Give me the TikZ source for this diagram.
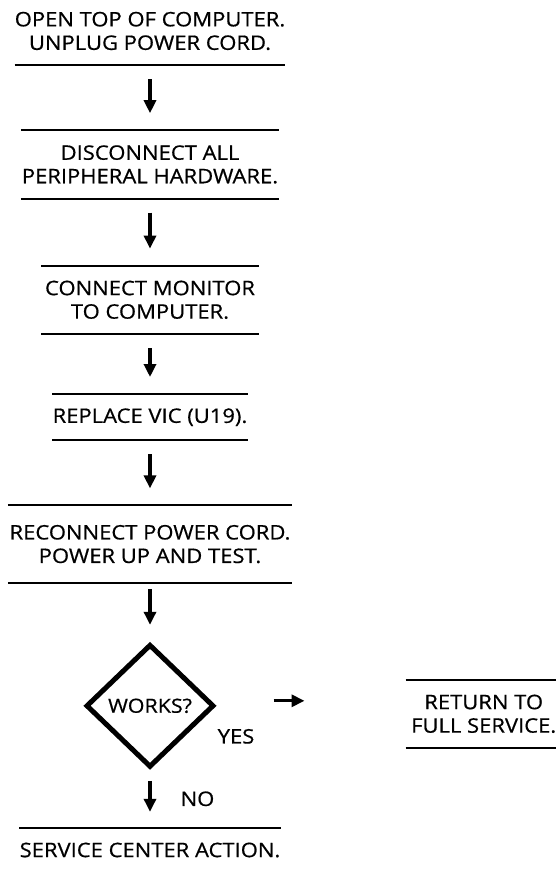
\documentclass[tikz,border=0pt]{standalone}
\usepackage{fontspec}
\setmainfont{Open Sans}[FakeBold=0.6, FakeStretch=1.1]
\usetikzlibrary{shapes.geometric, arrows.meta, positioning}
\tikzstyle{stepbox} = [rectangle, align=center, inner xsep=0pt, inner ysep=0pt, minimum height=68pt]
\tikzstyle{onebox} = [stepbox, minimum height=46pt]
\tikzstyle{decision} = [diamond, aspect=1, minimum width=128pt, minimum height=123pt, inner sep=0pt, draw=black, line width=5pt, font=\fontsize{19.5}{21}\selectfont]
\tikzstyle{rule} = [line width=2pt]
\tikzstyle{arrow} = [line width=3.2pt, -{Triangle[length=13pt,width=12pt]}, shorten <=14pt, shorten >=17pt]
\tikzstyle{tag} = [inner sep=0pt]

\begin{document}
\begin{tikzpicture}[x=1pt, y=1pt, node distance=65pt, font=\fontsize{20}{23.5}\selectfont]
    \useasboundingbox (0,0) rectangle (555,-869);

    % Steps
    \node (A) [stepbox, minimum width=262pt] at (150,-31) {OPEN TOP OF COMPUTER.\\UNPLUG POWER CORD.};
    \node (B) [stepbox, minimum width=258pt, below=of A] {DISCONNECT ALL\\PERIPHERAL HARDWARE.};
    \node (C) [stepbox, minimum width=217pt, below=67pt of B] {CONNECT MONITOR\\TO COMPUTER.};
    \node (D) [onebox, minimum width=195pt, below=60pt of C] {REPLACE VIC (U19).};
    \node (E) [stepbox, minimum width=284pt, minimum height=77pt, below=of D] {RECONNECT POWER CORD.\\POWER UP AND TEST.};

    % Decision and its outcomes
    \node (F) [decision, below=59pt of E] {WORKS?};
    \node (G) [onebox, minimum width=260pt, minimum height=44pt, below=58pt of F] {SERVICE CENTER ACTION.};
    \node (H) [stepbox, minimum width=156pt, right=189pt of F, yshift=-8pt] {RETURN TO\\FULL SERVICE.};
    \node (yes) [tag, below right=23pt and 1pt of F.east] {YES};

    % Rules
    \draw [rule] (A.south west) -- (A.south east);
    \draw [rule] (B.north west) -- (B.north east);
    \draw [rule] (B.south west) -- (B.south east);
    \draw [rule] (C.north west) -- (C.north east);
    \draw [rule] (C.south west) -- (C.south east);
    \draw [rule] (D.north west) -- (D.north east);
    \draw [rule] (D.south west) -- (D.south east);
    \draw [rule] (E.north west) -- (E.north east);
    \draw [rule] (E.south west) -- (E.south east);
    \draw [rule] (G.north west) -- (G.north east);
    \draw [rule] (G.south west) -- (G.south east);
    \draw [rule] (H.north west) -- (H.north east);
    \draw [rule] (H.south west) -- (H.south east);

    % Arrows
    \draw [arrow] (A) -- (B);
    \draw [arrow] (B) -- (C);
    \draw [arrow] (C) -- (D);
    \draw [arrow] (D) -- (E);
    \draw [arrow, shorten <=6pt] (E) -- (F);
    \draw [arrow, shorten <=11pt, shorten >=16pt] (F) -- node (no) [tag, right=29pt] {NO} (G);
    \draw [arrow, shorten <=57pt, shorten >=101pt] ([yshift=5pt]F.east) -- ([yshift=5pt]F.east -| H.west);
\end{tikzpicture}
\end{document}
